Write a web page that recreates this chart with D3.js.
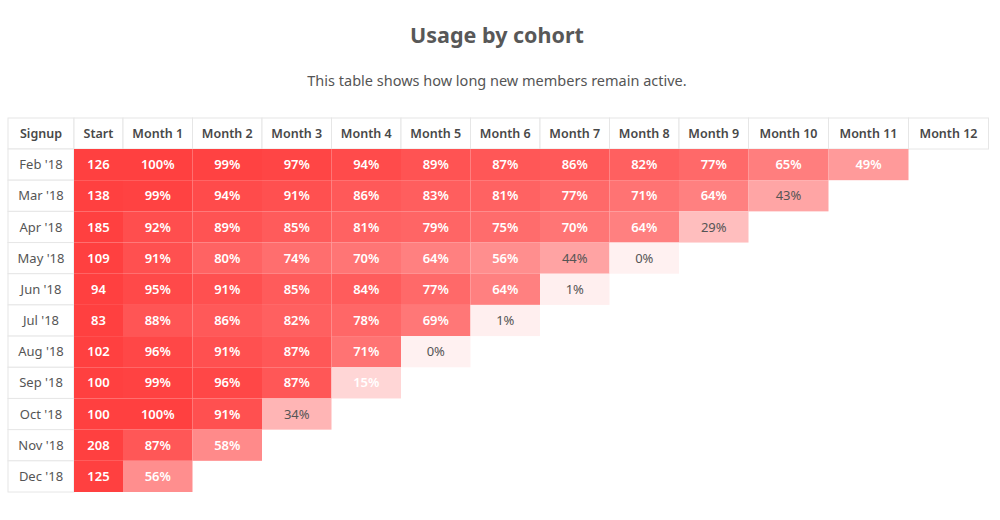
<!DOCTYPE html>
<html>
<head>
<meta charset="utf-8">
<script src="https://cdn.jsdelivr.net/npm/d3@7"></script>
<style>
  body { margin: 0; background: #fff; font-family: "Noto Sans", sans-serif; }
</style>
</head>
<body>
<svg id="chart"></svg>
<script>
// data
const cohorts = ["Feb '18", "Mar '18", "Apr '18", "May '18", "Jun '18", "Jul '18",
  "Aug '18", "Sep '18", "Oct '18", "Nov '18", "Dec '18"];
const starts = [126, 138, 185, 109, 94, 83, 102, 100, 100, 208, 125];
const months = ["Month 1", "Month 2", "Month 3", "Month 4", "Month 5", "Month 6",
  "Month 7", "Month 8", "Month 9", "Month 10", "Month 11", "Month 12"];
const retention = [
  [100, 99, 97, 94, 89, 87, 86, 82, 77, 65, 49],
  [99, 94, 91, 86, 83, 81, 77, 71, 64, 43],
  [92, 89, 85, 81, 79, 75, 70, 64, 29],
  [91, 80, 74, 70, 64, 56, 44, 0],
  [95, 91, 85, 84, 77, 64, 1],
  [88, 86, 82, 78, 69, 1],
  [96, 91, 87, 71, 0],
  [99, 96, 87, 15],
  [100, 91, 34],
  [87, 58],
  [56]
];
// cells whose label stays white although the value is low
const whiteLabelOverrides = [["Sep '18", "Month 4"]];

const W = 1000, H = 520;
const svg = d3.select("#chart").attr("width", W).attr("height", H);

const headers = ["Signup", "Start"].concat(months);
const colWidth = h => h === "Signup" ? 66 : h === "Start" ? 49 : (months.indexOf(h) >= 9 ? 80 : 69.5);
const colX = {};
let acc = 8;
headers.forEach(h => { colX[h] = acc; acc += colWidth(h); });

const tableTop = 118, headH = 31;
const y = d3.scaleBand().domain(cohorts).range([tableTop + headH, 492]);

const color = d3.scaleLinear().domain([0, 100]).range(["#fff1f1", "#ff4040"]);
const border = "#e6e6e6";

svg.append("text")
  .attr("x", 497).attr("y", 43)
  .attr("text-anchor", "middle")
  .attr("font-size", 21.5).attr("font-weight", 700)
  .attr("fill", "#585858")
  .text("Usage by cohort");

svg.append("text")
  .attr("x", 497).attr("y", 86)
  .attr("text-anchor", "middle")
  .attr("font-size", 14.5)
  .attr("fill", "#555")
  .text("This table shows how long new members remain active.");

// header row
const head = svg.append("g");
head.selectAll("rect")
  .data(headers)
  .join("rect")
  .attr("x", d => colX[d]).attr("y", tableTop)
  .attr("width", d => colWidth(d)).attr("height", headH)
  .attr("fill", "#fff").attr("stroke", border);
head.selectAll("text")
  .data(headers)
  .join("text")
  .attr("x", d => colX[d] + colWidth(d) / 2)
  .attr("y", tableTop + headH / 2)
  .attr("dy", "0.35em")
  .attr("text-anchor", "middle")
  .attr("font-size", 12.5).attr("font-weight", 600)
  .attr("fill", "#484848")
  .text(d => d);

// signup column
const side = svg.append("g");
side.selectAll("rect")
  .data(cohorts)
  .join("rect")
  .attr("x", colX["Signup"]).attr("y", d => y(d))
  .attr("width", colWidth("Signup")).attr("height", y.bandwidth())
  .attr("fill", "#fff").attr("stroke", border);
side.selectAll("text")
  .data(cohorts)
  .join("text")
  .attr("x", colX["Signup"] + colWidth("Signup") / 2)
  .attr("y", d => y(d) + y.bandwidth() / 2)
  .attr("dy", "0.35em")
  .attr("text-anchor", "middle")
  .attr("font-size", 13)
  .attr("fill", "#555")
  .text(d => d);

// start column
const startG = svg.append("g");
const startData = cohorts.map((c, i) => ({ cohort: c, value: starts[i] }));
startG.selectAll("rect")
  .data(startData)
  .join("rect")
  .attr("x", colX["Start"]).attr("y", d => y(d.cohort))
  .attr("width", colWidth("Start")).attr("height", y.bandwidth())
  .attr("fill", color(100));
startG.selectAll("text")
  .data(startData)
  .join("text")
  .attr("x", colX["Start"] + colWidth("Start") / 2)
  .attr("y", d => y(d.cohort) + y.bandwidth() / 2)
  .attr("dy", "0.35em")
  .attr("text-anchor", "middle")
  .attr("font-size", 13).attr("font-weight", 600)
  .attr("fill", "#fff")
  .text(d => d.value);

// retention cells
const cells = [];
retention.forEach((row, i) => row.forEach((v, j) => cells.push({ cohort: cohorts[i], month: months[j], value: v })));
const isWhite = d => d.value >= 45 || whiteLabelOverrides.some(o => o[0] === d.cohort && o[1] === d.month);

const cellG = svg.append("g");
cellG.selectAll("rect")
  .data(cells)
  .join("rect")
  .attr("x", d => colX[d.month]).attr("y", d => y(d.cohort))
  .attr("width", d => colWidth(d.month)).attr("height", y.bandwidth())
  .attr("fill", d => color(d.value));
cellG.selectAll("text")
  .data(cells)
  .join("text")
  .attr("x", d => colX[d.month] + colWidth(d.month) / 2)
  .attr("y", d => y(d.cohort) + y.bandwidth() / 2)
  .attr("dy", "0.35em")
  .attr("text-anchor", "middle")
  .attr("font-size", 13)
  .attr("font-weight", d => isWhite(d) ? 600 : 400)
  .attr("fill", d => isWhite(d) ? "#fff" : "#555")
  .text(d => d.value + "%");
</script>
</body>
</html>
